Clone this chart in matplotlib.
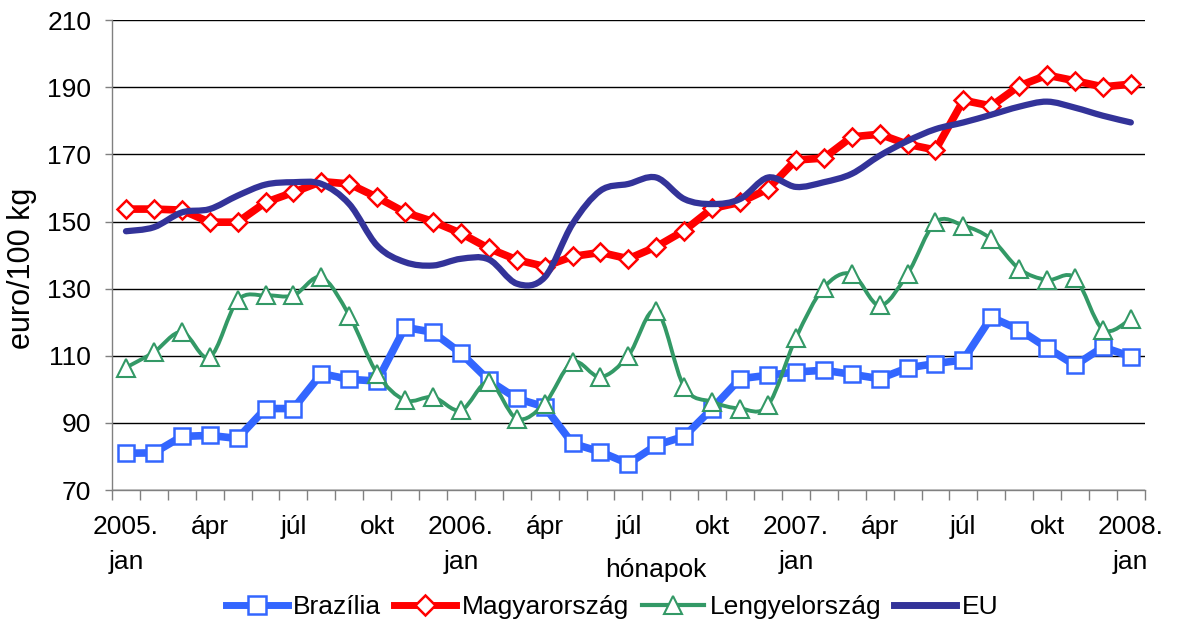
import numpy as np
import matplotlib
matplotlib.use("Agg")
import matplotlib.pyplot as plt
from matplotlib.path import Path
from matplotlib.patches import PathPatch
from matplotlib.lines import Line2D

plt.rcParams['font.family'] = ['Liberation Sans', 'DejaVu Sans']

# monthly data, 2005 jan .. 2008 jan
tick_labels = ["2005.\njan", "ápr", "júl", "okt", "2006.\njan", "ápr", "júl", "okt",
               "2007.\njan", "ápr", "júl", "okt", "2008.\njan"]

brazilia = [81.0, 81.1, 86.0, 86.3, 85.4, 94.3, 94.3, 104.7, 103.0, 102.5, 118.5, 117.0,
            110.8, 102.7, 97.3, 94.8, 83.9, 81.4, 77.9, 83.4, 86.0, 94.3, 103.2, 104.2,
            105.2, 105.7, 104.5, 103.2, 106.4, 107.7, 108.8, 121.5, 117.8, 112.4, 107.2,
            112.6, 109.8]
magyar = [153.7, 153.7, 153.4, 149.8, 149.8, 155.7, 158.7, 161.9, 161.2, 157.2, 152.7, 150.0,
          146.5, 142.0, 138.6, 136.6, 139.6, 140.8, 138.9, 142.5, 147.3, 153.9, 155.7, 159.7,
          168.3, 168.9, 175.2, 176.0, 173.0, 171.3, 186.1, 184.4, 190.4, 193.6, 191.9,
          190.1, 190.9]
lengyel = [106.5, 111.1, 117.1, 109.6, 126.5, 128.0, 128.0, 133.4, 122.0, 104.7, 96.8, 97.7,
           93.8, 102.2, 91.3, 95.8, 108.1, 103.7, 110.1, 123.5, 100.7, 96.3, 94.3, 95.3,
           115.3, 130.3, 134.4, 125.0, 134.4, 149.8, 148.8, 144.8, 135.9, 132.6, 133.2,
           117.8, 121.0]
eu = [147.1, 148.3, 152.7, 153.7, 157.7, 161.0, 161.7, 161.2, 155.2, 142.8, 137.9, 136.9,
      138.9, 138.7, 131.5, 133.4, 149.3, 159.2, 161.2, 163.1, 156.7, 155.2, 156.7, 163.1,
      160.3, 161.7, 164.2, 169.6, 174.0, 177.5, 179.5, 181.8, 184.2, 185.7, 183.9,
      181.5, 179.5]

x = np.arange(len(brazilia))
FS = 19


def smooth_path(xs, ys):
    # excel style smoothed line: cubic bezier with catmull-rom control points
    pts = np.column_stack([xs, ys]).astype(float)
    n = len(pts)
    verts = [pts[0]]
    codes = [Path.MOVETO]
    for i in range(n - 1):
        p0 = pts[max(i - 1, 0)]
        p1 = pts[i]
        p2 = pts[i + 1]
        p3 = pts[min(i + 2, n - 1)]
        verts += [p1 + (p2 - p0) / 6, p2 - (p3 - p1) / 6, p2]
        codes += [Path.CURVE4] * 3
    return Path(verts, codes)


fig = plt.figure(figsize=(11.79, 6.26), dpi=100)
ax = fig.add_axes([0.095, 0.217, 0.876, 0.751])

c_bra = '#3366FF'
c_hu = '#FF0000'
c_pl = '#339966'
c_eu = '#333399'

ax.plot(x, brazilia, color=c_bra, lw=5.5, marker='s', ms=12, mfc='white',
        mec=c_bra, mew=1.8, zorder=3)
ax.plot(x, magyar, color=c_hu, lw=5.5, marker='D', ms=9.5, mfc='white',
        mec=c_hu, mew=1.8, zorder=4)
ax.add_patch(PathPatch(smooth_path(x, lengyel), fill=False, edgecolor=c_pl, lw=2.8,
                       capstyle='round', zorder=5))
ax.plot(x, lengyel, linestyle='none', marker='^', ms=13, mfc='white',
        mec=c_pl, mew=1.5, zorder=5)
ax.add_patch(PathPatch(smooth_path(x, eu), fill=False, edgecolor=c_eu, lw=4.5,
                       capstyle='round', zorder=6))

ax.set_xlim(-0.5, len(x) - 0.5)
ax.set_ylim(70, 210)
ax.set_yticks(range(70, 211, 20))
ax.yaxis.grid(True, color='black', lw=1)
ax.set_axisbelow(True)

# tick marks between months, labels every quarter
ax.set_xticks(np.arange(-0.5, len(x), 1))
ax.set_xticklabels([])
ax.set_xticks(range(0, len(x), 3), minor=True)
ax.set_xticklabels(tick_labels, minor=True, linespacing=1.55, va='top')
ax.tick_params(axis='x', which='major', length=7, width=1, color='#808080', direction='out')
ax.tick_params(axis='x', which='minor', length=0, pad=18, labelsize=FS)
ax.tick_params(axis='y', length=5, width=1, color='#808080', pad=10, labelsize=FS)

for s in ['top', 'right']:
    ax.spines[s].set_visible(False)
for s in ['left', 'bottom']:
    ax.spines[s].set_color('#808080')
    ax.spines[s].set_linewidth(1)

fig.text(22 / 1179, 1 - 268 / 626, 'euro/100 kg', rotation=90, ha='center', va='center',
         fontsize=22)
fig.text(656 / 1179, 1 - 577 / 626, 'hónapok', ha='center', va='baseline', fontsize=FS)

handles = [
    Line2D([], [], color=c_bra, lw=5, marker='s', ms=13, mfc='white', mec=c_bra, mew=1.8),
    Line2D([], [], color=c_hu, lw=5, marker='D', ms=10, mfc='white', mec=c_hu, mew=1.8),
    Line2D([], [], color=c_pl, lw=3, marker='^', ms=13, mfc='white', mec=c_pl, mew=1.5),
    Line2D([], [], color=c_eu, lw=5),
]
fig.legend(handles, ['Brazília', 'Magyarország', 'Lengyelország', 'EU'], loc='center',
           bbox_to_anchor=(612 / 1179, 1 - 607 / 626), ncol=4, frameon=False, fontsize=FS,
           handlelength=2.35, handletextpad=0.2, columnspacing=0.5, borderpad=0)

fig.savefig('out.png', dpi=100)
